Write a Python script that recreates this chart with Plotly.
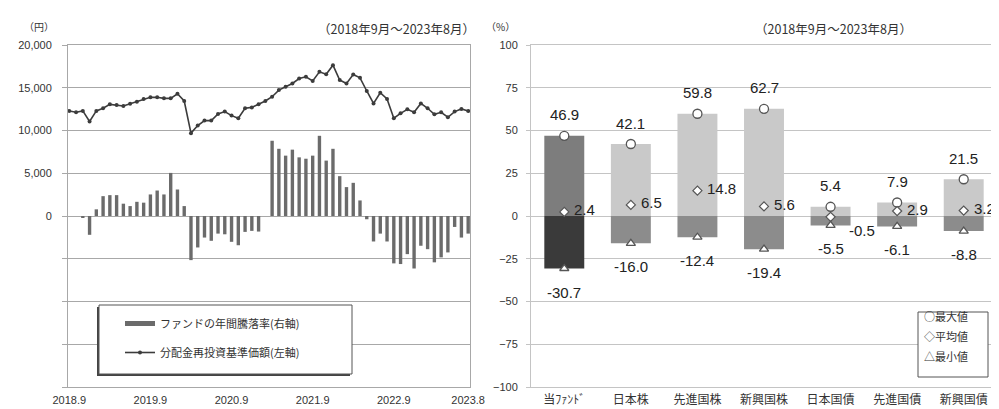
import plotly.graph_objects as go

# ---------------- data ----------------
months = [f"{2018 + (8 + i) // 12}.{(8 + i) % 12 + 1}" for i in range(60)]

nav = [12290, 12130, 12290, 11050, 12290, 12600, 13060, 12980, 12870, 13140,
       13370, 13680, 13880, 13880, 13760, 13760, 14300, 13450, 9690, 10580,
       11160, 11160, 11940, 12210, 11740, 11430, 12600, 12700, 13060, 13450,
       13950, 14730, 15120, 15500, 16080, 16280, 15800, 16860, 16580, 17640,
       15900, 15500, 16550, 16160, 14620, 13170, 14420, 13690, 11430, 12010,
       12480, 12130, 13170, 12600, 11900, 12130, 11550, 12210, 12520, 12290]

annual_ret = [0.0, 0.0, -1.0, -11.0, 3.9, 11.6, 12.2, 12.2, 7.2, 5.8,
              8.3, 7.8, 12.6, 14.9, 12.6, 25.2, 15.5, 5.8, -25.8, -18.4,
              -12.6, -14.5, -10.3, -10.7, -15.1, -17.1, -9.3, -8.7, -9.1, 0.0,
              44.0, 39.3, 35.3, 38.8, 34.3, 33.5, 35.3, 46.9, 32.4, 39.3,
              23.3, 16.9, 19.4, 9.1, -1.9, -14.9, -10.3, -14.9, -27.7, -28.1,
              -22.3, -30.7, -17.4, -19.4, -27.1, -24.2, -21.3, -6.4, -12.6, -10.3]

x_ticks = ["2018.9", "2019.9", "2020.9", "2021.9", "2022.9", "2023.8"]

assets = ["当ﾌｧﾝﾄﾞ", "日本株", "先進国株", "新興国株", "日本国債", "先進国債", "新興国債"]
max_vals = [46.9, 42.1, 59.8, 62.7, 5.4, 7.9, 21.5]
avg_vals = [2.4, 6.5, 14.8, 5.6, -0.5, 2.9, 3.2]
min_vals = [-30.7, -16.0, -12.4, -19.4, -5.5, -6.1, -8.8]

# ---------------- helpers ----------------
# the page body has an 8px margin, so the figure is drawn 8px in from the window corner
OFF = 8
W, H = 999 - OFF, 409 - OFF
def px(x):
    return (x - OFF) / W
def py(y):
    return 1 - (y - OFF) / H

JP = "Noto Sans CJK JP"
NUM = "Liberation Sans"
TXT = "#333333"

fig = go.Figure()

# ---------------- left chart ----------------
fig.add_trace(go.Bar(x=months, y=annual_ret, xaxis="x", yaxis="y2", width=0.5,
                     marker=dict(color="#6b6b6b", line=dict(width=0)),
                     showlegend=False))
# legend proxy for the bars
fig.add_trace(go.Scatter(x=[None], y=[None], xaxis="x", yaxis="y", mode="lines",
                         line=dict(color="#6b6b6b", width=5),
                         name="ファンドの年間騰落率(右軸)", legendgroup="a",
                         showlegend=True))
fig.add_trace(go.Scatter(x=months, y=nav, xaxis="x", yaxis="y", mode="lines+markers",
                         line=dict(color="#3c3c3c", width=1.6),
                         marker=dict(color="#3c3c3c", size=4),
                         name="分配金再投資基準価額(左軸)", legendgroup="b",
                         showlegend=True))

# ---------------- right chart ----------------
top_colors = ["#7d7d7d"] + ["#c9c9c9"] * 6
bot_colors = ["#3a3a3a"] + ["#8c8c8c"] * 6
fig.add_trace(go.Bar(x=assets, y=max_vals, xaxis="x2", yaxis="y3", width=0.6,
                     marker=dict(color=top_colors, line=dict(width=0)), showlegend=False))
fig.add_trace(go.Bar(x=assets, y=min_vals, xaxis="x2", yaxis="y3", width=0.6,
                     marker=dict(color=bot_colors, line=dict(width=0)), showlegend=False))
fig.add_trace(go.Scatter(x=assets, y=max_vals, xaxis="x2", yaxis="y3", mode="markers",
                         marker=dict(symbol="circle", size=9, color="white",
                                     line=dict(color="#555555", width=1.3)),
                         showlegend=False))
fig.add_trace(go.Scatter(x=assets, y=avg_vals, xaxis="x2", yaxis="y3", mode="markers",
                         marker=dict(symbol="diamond", size=7, color="white",
                                     line=dict(color="#555555", width=1.2)),
                         showlegend=False))
fig.add_trace(go.Scatter(x=assets, y=min_vals, xaxis="x2", yaxis="y3", mode="markers",
                         marker=dict(symbol="triangle-up", size=8, color="white",
                                     line=dict(color="#555555", width=1.3)),
                         showlegend=False))

annotations = []
for a, mx, av, mn in zip(assets, max_vals, avg_vals, min_vals):
    annotations.append(dict(x=a, y=mx, xref="x2", yref="y3", text=f"{mx:.1f}",
                            showarrow=False, yshift=21,
                            font=dict(family=NUM, size=15, color="#222222")))
    annotations.append(dict(x=a, y=mn, xref="x2", yref="y3", text=f"{mn:.1f}",
                            showarrow=False, yshift=-23.5,
                            font=dict(family=NUM, size=15, color="#222222")))
    if abs(av) < 1:
        xs, ys = 16, -13.5
    else:
        xs, ys = 8, 2
    annotations.append(dict(x=a, y=av, xref="x2", yref="y3", text=f"{av:.1f}",
                            showarrow=False, xanchor="left", xshift=xs, yshift=ys,
                            font=dict(family=NUM, size=15, color="#222222")))

# headers
annotations += [
    dict(x=px(22), y=py(17), xref="paper", yref="paper", text="（円）", showarrow=False,
         font=dict(family=JP, size=10, color=TXT)),
    dict(x=px(396), y=py(17), xref="paper", yref="paper", text="（2018年9月～2023年8月）",
         showarrow=False, font=dict(family=JP, size=12.5, color=TXT)),
    dict(x=px(500), y=py(17), xref="paper", yref="paper", text="（%）", showarrow=False,
         font=dict(family=JP, size=10, color=TXT)),
    dict(x=px(914), y=py(17), xref="paper", yref="paper", text="（2018年9月～2023年8月）",
         showarrow=False, font=dict(family=JP, size=12.5, color=TXT)),
]
# right legend texts
for i, t in enumerate(["○最大値", "◇平均値", "△最小値"]):
    annotations.append(dict(x=px(922), y=py(326 + 20 * i), xref="paper", yref="paper",
                            text=t, showarrow=False, xanchor="left",
                            font=dict(family=JP, size=11, color=TXT)))

shapes = [
    # left legend box with shadow
    dict(type="rect", xref="paper", yref="paper", x0=px(97), x1=px(350), y0=py(376), y1=py(307),
         fillcolor="#444444", line=dict(width=0), layer="above"),
    dict(type="rect", xref="paper", yref="paper", x0=px(99), x1=px(352), y0=py(374), y1=py(305),
         fillcolor="white", line=dict(color="#555555", width=1), layer="above"),
    # right legend box
    dict(type="rect", xref="paper", yref="paper", x0=px(918), x1=px(988), y0=py(377), y1=py(312),
         fillcolor="white", line=dict(color="#555555", width=1), layer="above"),
]

ydom = [py(387), py(45)]
grid_l = "#a8a8a8"
grid_r = "#c4c4c4"

fig.update_layout(
    template="none",
    width=W, height=H, autosize=False,
    margin=dict(l=0, r=0, t=0, b=0, pad=0),
    paper_bgcolor="white", plot_bgcolor="white",
    barmode="relative",
    font=dict(family=JP, color=TXT),
    showlegend=True,
    legend=dict(x=px(120), y=py(309), xanchor="left", yanchor="top",
                bgcolor="rgba(0,0,0,0)", borderwidth=0, tracegroupgap=10,
                font=dict(family=JP, size=11, color=TXT), traceorder="grouped"),
    xaxis=dict(domain=[px(68), px(470)], type="category", categoryorder="array",
               categoryarray=months, range=[-0.19, 59.27], automargin=False,
               tickmode="array", tickvals=x_ticks, ticktext=x_ticks,
               showgrid=False, showline=True, linecolor=grid_l, mirror=True,
               ticks="", ticklabelstandoff=3,
               tickfont=dict(family=NUM, size=11, color=TXT), anchor="y"),
    yaxis=dict(domain=ydom, range=[-20000, 20000], automargin=False,
               tickmode="array", tickvals=list(range(-20000, 20001, 5000)),
               ticktext=["", "", "", "", "0", "5,000", "10,000", "15,000", "20,000"],
               showgrid=True, gridcolor=grid_l, gridwidth=1, zeroline=False,
               showline=True, linecolor=grid_l, mirror=True,
               ticks="outside", ticklen=5, tickcolor=grid_l, ticklabelstandoff=8,
               tickfont=dict(family=NUM, size=11, color=TXT), anchor="x"),
    yaxis2=dict(domain=ydom, range=[-100, 100], overlaying="y", side="right",
                automargin=False,
                showgrid=False, showticklabels=False, zeroline=False, showline=False,
                anchor="x"),
    xaxis2=dict(domain=[px(531), px(997)], type="category", categoryorder="array",
                categoryarray=assets, range=[-0.5, 6.5], automargin=False,
                showgrid=False, showline=True, linecolor=grid_r, mirror=True,
                ticks="", ticklabelstandoff=2,
                tickfont=dict(family=JP, size=12, color=TXT), anchor="y3"),
    yaxis3=dict(domain=ydom, range=[-100, 100], dtick=25, tick0=0, automargin=False,
                showgrid=True, gridcolor=grid_r, gridwidth=1, zeroline=False,
                showline=True, linecolor=grid_r, mirror=True,
                ticks="outside", ticklen=4, tickcolor=grid_r, ticklabelstandoff=6,
                tickfont=dict(family=NUM, size=11, color=TXT), anchor="x2"),
    xaxis4=dict(domain=[px(531), px(997)], range=[-0.5, 6.5], anchor="free",
                position=py(215.7), overlaying="x2", automargin=False,
                tickmode="array", tickvals=[0.5, 1.5, 2.5, 3.5, 4.5, 5.5],
                ticks="outside", ticklen=4, tickcolor="#9a9a9a",
                showticklabels=False, showgrid=False, showline=False, zeroline=False),
    annotations=annotations,
    shapes=shapes,
)

fig.write_html("out.html")
